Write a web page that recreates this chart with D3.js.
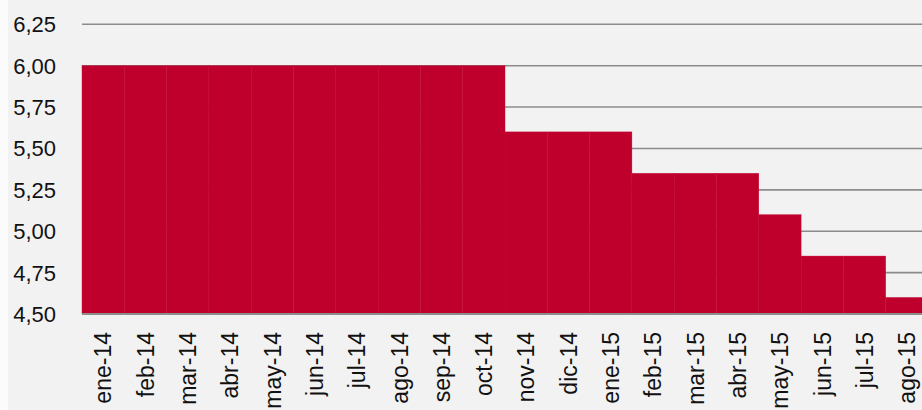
<!DOCTYPE html>
<html>
<head>
<meta charset="utf-8">
<script src="https://cdn.jsdelivr.net/npm/d3@7"></script>
<style>
  body { margin: 0; background: #f2f2f2; }
  text { font-family: "Liberation Sans", Arial, sans-serif; fill: #111; }
</style>
</head>
<body>
<div id="chart"></div>
<script>
//months on the x axis
var months = ["ene-14", "feb-14", "mar-14", "abr-14", "may-14", "jun-14", "jul-14",
              "ago-14", "sep-14", "oct-14", "nov-14", "dic-14", "ene-15", "feb-15",
              "mar-15", "abr-15", "may-15", "jun-15", "jul-15", "ago-15"];

//rate for each month
var rates = [6.00, 6.00, 6.00, 6.00, 6.00, 6.00, 6.00, 6.00, 6.00, 6.00,
             5.60, 5.60, 5.60, 5.35, 5.35, 5.35, 5.10, 4.85, 4.85, 4.60];

//y axis ticks
var yTicks = [4.50, 4.75, 5.00, 5.25, 5.50, 5.75, 6.00, 6.25];

function main()
{
    var width = 922, height = 410;
    var margin = {top: 24.3, left: 82, bottom: 96};
    var plotRight = 928; //last band is cut by the edge of the picture

    var svg = d3.select("#chart")
        .append("svg")
        .attr("width", width)
        .attr("height", height);

    svg.append("rect")
        .attr("width", width).attr("height", height)
        .attr("fill", "#f2f2f2");
    svg.append("rect")
        .attr("width", 8).attr("height", height)
        .attr("fill", "#fbfbfb");

    var x = d3.scaleBand()
        .domain(months)
        .range([margin.left, plotRight])
        .padding(0);

    var y = d3.scaleLinear()
        .domain([4.5, 6.25])
        .range([height - margin.bottom, margin.top]);

    //gridlines behind the area
    svg.selectAll(".grid")
        .data(yTicks.slice(1))
        .enter().append("line")
        .attr("class", "grid")
        .attr("x1", margin.left).attr("x2", width)
        .attr("y1", function(d) { return y(d); })
        .attr("y2", function(d) { return y(d); })
        .attr("stroke", "#8c8c8c")
        .attr("stroke-width", 1.6);

    //one column per month, no gap between them
    svg.selectAll(".bar")
        .data(rates)
        .enter().append("rect")
        .attr("class", "bar")
        .attr("x", function(d, i) { return x(months[i]); })
        .attr("width", x.bandwidth())
        .attr("y", function(d) { return y(d); })
        .attr("height", function(d) { return y(4.5) - y(d); })
        .attr("fill", "#c0002c")
        .attr("stroke", "#c30934")
        .attr("stroke-width", 0.4);

    //base line
    svg.append("line")
        .attr("x1", margin.left).attr("x2", width)
        .attr("y1", y(4.5)).attr("y2", y(4.5))
        .attr("stroke", "#8c8c8c")
        .attr("stroke-width", 2);

    var fmt = function(d) { return d3.format(".2f")(d).replace(".", ","); };

    svg.selectAll(".ylab")
        .data(yTicks)
        .enter().append("text")
        .attr("class", "ylab")
        .attr("x", 56)
        .attr("y", function(d) { return y(d); })
        .attr("dy", "0.36em")
        .attr("text-anchor", "end")
        .style("font-size", "22px")
        .text(fmt);

    svg.selectAll(".xlab")
        .data(months)
        .enter().append("text")
        .attr("class", "xlab")
        .attr("transform", function(d) {
            return "translate(" + (x(d) + x.bandwidth() / 2) + "," + 332 + ") rotate(-90)";
        })
        .attr("dy", "0.36em")
        .attr("text-anchor", "end")
        .style("font-size", "23px")
        .text(function(d) { return d; });
}
main();
</script>
</body>
</html>
